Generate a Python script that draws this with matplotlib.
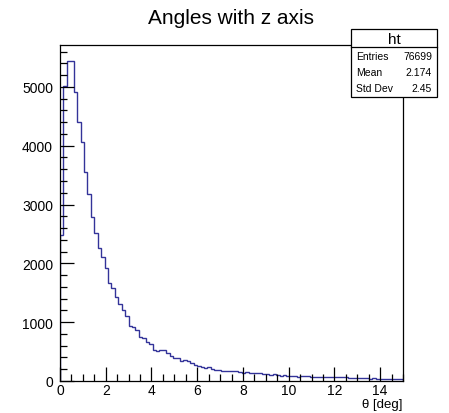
import numpy as np
import matplotlib
matplotlib.use("Agg")
import matplotlib.pyplot as plt
from matplotlib.patches import Rectangle
from matplotlib.lines import Line2D
from matplotlib.ticker import MultipleLocator

# histogram "ht": 100 bins of 0.15 deg on [0, 15]
bin_edges = np.linspace(0.0, 15.0, 101)
counts = [
    2490, 5020, 5440, 5440, 4910, 4400, 4060, 3554, 3186, 2790,
    2520, 2254, 2113, 1915, 1672, 1588, 1435, 1305, 1209, 1107,
    927, 910, 870, 751, 723, 667, 621, 531, 503, 520,
    520, 469, 429, 390, 390, 334, 356, 334, 305, 266,
    260, 245, 220, 232, 203, 181, 186, 164, 175, 175,
    164, 175, 158, 141, 147, 136, 136, 130, 130, 124,
    124, 107, 113, 96, 90, 96, 79, 79, 90, 73,
    90, 79, 79, 73, 73, 73, 68, 73, 68, 65,
    62, 65, 60, 62, 56, 51, 54, 51, 48, 45,
    42, 45, 40, 40, 38, 35, 34, 32, 30, 28,
]
stats_labels = ["Entries", "Mean", "Std Dev"]
stats_values = ["76699", "2.174", "2.45"]

W, H = 449, 414
plt.rcParams['font.family'] = ['Liberation Sans', 'DejaVu Sans']

fig = plt.figure(figsize=(W / 100, H / 100), dpi=100)
ax = fig.add_axes([60 / W, 1 - 382 / H, (403 - 60) / W, (382 - 46) / H])

ax.stairs(counts, bin_edges, color='#333399', linewidth=1.0)
ax.set_xlim(0, 15)
ax.set_ylim(0, 1.05 * max(counts))

ax.xaxis.set_major_locator(MultipleLocator(2))
ax.xaxis.set_minor_locator(MultipleLocator(0.5))
ax.yaxis.set_major_locator(MultipleLocator(1000))
ax.yaxis.set_minor_locator(MultipleLocator(200))
ax.tick_params(which='both', direction='in', top=False, right=False,
               labelsize=10, width=0.9)
ax.tick_params(which='major', length=10)
ax.tick_params(which='minor', length=5)
ax.tick_params(axis='y', pad=5)
ax.tick_params(axis='x', pad=1.5)
for sp in ax.spines.values():
    sp.set_linewidth(0.9)
    sp.set_color('black')

fig.text(231 / W, 1 - 18 / H, "Angles with z axis", ha='center', va='center',
         fontsize=15)
fig.text(402 / W, 1 - 405.5 / H, "θ [deg]", ha='right', va='center', fontsize=9.5)

# stats box
bx0, bx1, by0, by1, bsep = 351, 437, 30, 98, 48
fig.add_artist(Rectangle((bx0 / W, 1 - by1 / H), (bx1 - bx0) / W, (by1 - by0) / H,
                         transform=fig.transFigure, facecolor='white',
                         edgecolor='black', linewidth=0.9))
fig.add_artist(Line2D([bx0 / W, bx1 / W], [1 - bsep / H, 1 - bsep / H],
                      transform=fig.transFigure, color='black', linewidth=0.9))
fig.text(394 / W, 1 - 39.5 / H, "ht", ha='center', va='center', fontsize=11)
for i, (lab, val) in enumerate(zip(stats_labels, stats_values)):
    yy = 1 - (57 + 16 * i) / H
    fig.text(356 / W, yy, lab, ha='left', va='center', fontsize=7.5)
    fig.text(432 / W, yy, val, ha='right', va='center', fontsize=7.5)

fig.savefig("out.png", dpi=100)
